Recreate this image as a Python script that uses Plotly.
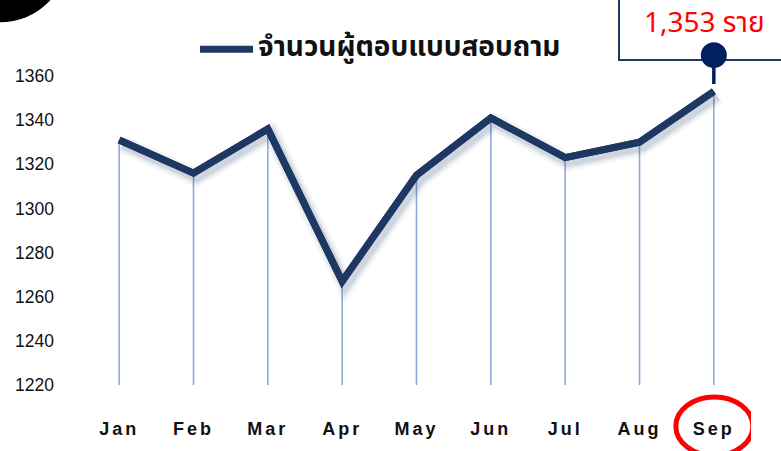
import plotly.graph_objects as go

months = ["Jan", "Feb", "Mar", "Apr", "May", "Jun", "Jul", "Aug", "Sep"]
respondents = [1331, 1316, 1336, 1267, 1315, 1341, 1323, 1330, 1353]
y_ticks = [1220, 1240, 1260, 1280, 1300, 1320, 1340, 1360]
series_name = "จำนวนผู้ตอบแบบสอบถาม"
callout_text = "1,353 ราย"

W, H = 781, 451
L, R, T, B = 82, 30, 76, 64
PW, PH = W - L - R, H - T - B
y_min, y_max = 1220, 1360

def px(x):
    return (x - L) / PW

def py(y):
    return (H - B - y) / PH

NAVY = "#1F3864"
DROP = "#8EA9DB"
THAI = "Tahoma, Leelawadee UI, Noto Sans Thai, Noto Sans Thai Looped, Loma, Garuda, sans-serif"

fig = go.Figure()

# soft shadow (same data on slightly shifted overlay axes)
for w, op in [(18, 0.05), (13, 0.07), (9, 0.10)]:
    fig.add_trace(go.Scatter(
        x=list(range(len(months))), y=respondents, mode="lines",
        line=dict(color=f"rgba(31,56,100,{op})", width=w),
        xaxis="x2", yaxis="y2", hoverinfo="skip", showlegend=False))

# drop lines (error bars down to the axis floor)
fig.add_trace(go.Scatter(
    x=months, y=respondents, mode="lines", name=series_name,
    line=dict(color=NAVY, width=7),
    error_y=dict(type="data", symmetric=False,
                 array=[0] * len(respondents),
                 arrayminus=[v - y_min for v in respondents],
                 color=DROP, thickness=1.6, width=0),
    showlegend=False))
# main line on top of drop lines
fig.add_trace(go.Scatter(
    x=months, y=respondents, mode="lines",
    line=dict(color=NAVY, width=7), hoverinfo="skip", showlegend=False))

shapes = []
# top-left black circle
shapes.append(dict(type="circle", xref="paper", yref="paper",
                   x0=px(-68), x1=px(68), y0=py(22), y1=py(-114),
                   fillcolor="black", line=dict(width=0), layer="above"))
# legend sample line
shapes.append(dict(type="line", xref="paper", yref="paper",
                   x0=px(200), x1=px(253), y0=py(49), y1=py(49),
                   line=dict(color=NAVY, width=7)))
# callout box
shapes.append(dict(type="rect", xref="paper", yref="paper",
                   x0=px(619), x1=px(800), y0=py(60), y1=py(-20),
                   line=dict(color=NAVY, width=2), fillcolor="white"))
# stem + dot pointing to Sep
sep_i = len(months) - 1
shapes.append(dict(type="line", xref="x", yref="paper",
                   x0=sep_i, x1=sep_i, y0=py(84), y1=py(55),
                   line=dict(color="#002060", width=3.5)))
shapes.append(dict(type="circle", xref="x", yref="paper",
                   xsizemode="pixel", xanchor=sep_i, x0=-13, x1=13,
                   y0=py(68), y1=py(42),
                   fillcolor="#002060", line=dict(width=0)))
# red ellipse around Sep label
shapes.append(dict(type="circle", xref="x", yref="paper",
                   xsizemode="pixel", xanchor=sep_i, x0=-38, x1=39,
                   y0=py(458), y1=py(399),
                   line=dict(color="#FF0000", width=5)))

annotations = [
    dict(text=series_name, xref="paper", yref="paper", x=px(256), y=py(47),
         xanchor="left", yanchor="middle", showarrow=False,
         font=dict(family=THAI, size=28, color="#111111", weight="bold")),
    dict(text=callout_text, xref="paper", yref="paper", x=px(704), y=py(23),
         xanchor="center", yanchor="middle", showarrow=False,
         font=dict(family=THAI, size=28, color="#FF0000")),
]

fig.update_layout(
    width=W, height=H,
    margin=dict(l=L, r=R, t=T, b=B),
    paper_bgcolor="white", plot_bgcolor="white",
    showlegend=False,
    shapes=shapes, annotations=annotations,
    xaxis=dict(type="category", categoryorder="array", categoryarray=months,
               range=[-0.5, len(months) - 0.5], showgrid=False, zeroline=False,
               showline=False, ticks="", ticklabelstandoff=31,
               tickfont=dict(family="Liberation Sans, Arial", size=18,
                             color="#111111", weight="bold")),
    yaxis=dict(range=[y_min, y_max], tickvals=y_ticks, showgrid=False,
               zeroline=False, showline=False, ticks="", ticklabelstandoff=27,
               tickfont=dict(family="Liberation Sans, Arial", size=17.5, color="#111111")),
    xaxis2=dict(overlaying="x", range=[-0.5 - 0.045, len(months) - 0.5 - 0.045],
                visible=False),
    yaxis2=dict(overlaying="y", range=[y_min + 2.0, y_max + 2.0], visible=False),
)

post = """
document.body.style.margin = '0';
document.body.style.overflow = 'hidden';
document.querySelectorAll('.xtick text').forEach(function(t){
  t.style.letterSpacing = '3px';
});
"""
fig.write_html("out.html", post_script=post, config={"displayModeBar": False})
